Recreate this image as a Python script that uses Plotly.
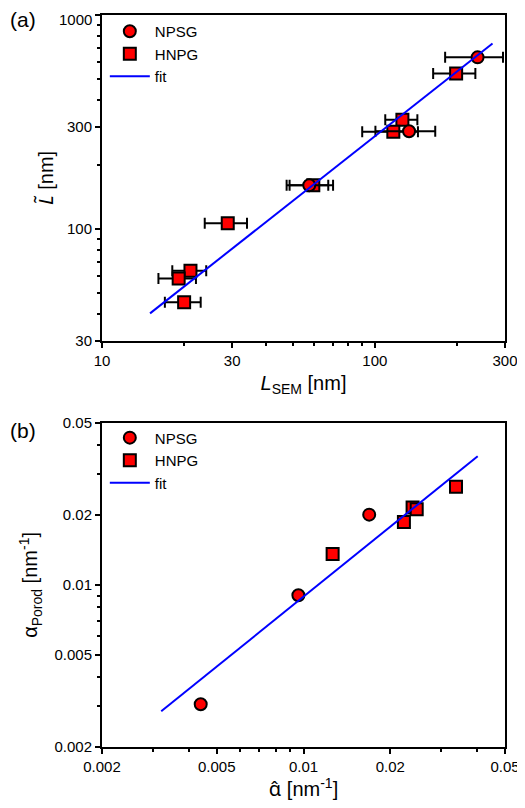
import math
import plotly.graph_objects as go
from plotly.subplots import make_subplots

# ---- Panel (a) data ----
a_npsg_x = [238, 133.5, 57.5]
a_npsg_y = [634, 286, 160]
a_npsg_xerr = [57, 33, 10]

a_hnpg_x = [198.6, 126.2, 116.9, 59.5, 28.9, 21.1, 19.1, 20.0]
a_hnpg_y = [533, 324, 285, 160, 106.4, 63.8, 58.7, 45.4]
a_hnpg_xerr = [35, 17, 27, 10.8, 5.1, 3.0, 3.0, 3.0]

a_fit_x = [15, 270]
a_fit_y = [40.3, 736]

a_xticks = [10, 30, 100, 300]
a_yticks = [30, 100, 300, 1000]
a_ytick_labels = ["30", "100", "300", "1000"]
a_xminor = [20, 40, 50, 60, 70, 80, 90, 200]
a_yminor = [40, 50, 60, 70, 80, 90, 200, 400, 500, 600, 700, 800, 900]

# ---- Panel (b) data ----
b_npsg_x = [0.0169, 0.0096, 0.0044]
b_npsg_y = [0.0201, 0.00903, 0.00306]

b_hnpg_x = [0.0338, 0.0239, 0.0247, 0.0223, 0.01262]
b_hnpg_y = [0.0265, 0.0216, 0.0212, 0.0187, 0.01358]

b_fit_x = [0.00321, 0.0402]
b_fit_y = [0.00285, 0.0359]

b_ticks = [0.002, 0.005, 0.01, 0.02, 0.05]
b_tick_labels = ["0.002", "0.005", "0.01", "0.02", "0.05"]
b_minor = [0.003, 0.004, 0.006, 0.007, 0.008, 0.009, 0.03, 0.04]

FONT = "Liberation Sans, Arial, sans-serif"
RED = "#ff0000"
BLUE = "#0000ff"

# page body has an 8px default margin: figure is drawn 8px right/down
OFF = 8
W, H = 525 - OFF, 808 - OFF
ML, MR, MT, MB = 102 - OFF, 20, 15 - OFF, 61
plot_w = W - ML - MR
plot_h = H - MT - MB

fig = make_subplots(rows=2, cols=1, vertical_spacing=0.1)

marker_common = dict(color=RED, size=12, line=dict(color="black", width=2))
err_common = dict(type="data", color="black", thickness=2, width=5.5)

# Panel (a)
fig.add_trace(go.Scatter(x=a_hnpg_x, y=a_hnpg_y, mode="markers", name="HNPG",
                         marker=dict(symbol="square", **marker_common),
                         error_x=dict(array=a_hnpg_xerr, **err_common),
                         legend="legend", legendrank=2), row=1, col=1)
fig.add_trace(go.Scatter(x=a_npsg_x, y=a_npsg_y, mode="markers", name="NPSG",
                         marker=dict(symbol="circle", **marker_common),
                         error_x=dict(array=a_npsg_xerr, **err_common),
                         legend="legend", legendrank=1), row=1, col=1)
fig.add_trace(go.Scatter(x=a_fit_x, y=a_fit_y, mode="lines", name="fit",
                         line=dict(color=BLUE, width=2),
                         legend="legend", legendrank=3), row=1, col=1)

# Panel (b)
fig.add_trace(go.Scatter(x=b_hnpg_x, y=b_hnpg_y, mode="markers", name="HNPG",
                         marker=dict(symbol="square", **marker_common),
                         legend="legend2", legendrank=2), row=2, col=1)
fig.add_trace(go.Scatter(x=b_npsg_x, y=b_npsg_y, mode="markers", name="NPSG",
                         marker=dict(symbol="circle", **marker_common),
                         legend="legend2", legendrank=1), row=2, col=1)
fig.add_trace(go.Scatter(x=b_fit_x, y=b_fit_y, mode="lines", name="fit",
                         line=dict(color=BLUE, width=2),
                         legend="legend2", legendrank=3), row=2, col=1)

axis_common = dict(type="log", showline=True, linecolor="black", linewidth=2,
                   mirror=True, ticks="outside", ticklen=5, tickwidth=2,
                   tickcolor="black", showgrid=False, zeroline=False,
                   automargin=False, ticklabeloverflow="allow",
                   tickfont=dict(family=FONT, size=15, color="black"))
minor_common = dict(ticks="outside", ticklen=3, tickwidth=1.5, tickcolor="black",
                    showgrid=False)
title_font = dict(family=FONT, size=20, color="black")
MARK = "<span style='font-family:Noto Sans'>{}</span>"

# the top label of panel (a) sits a little below its tick (as in the original);
# it is drawn as an annotation at that tick so it stays inside the page
a_ytick_text = a_ytick_labels[:-1] + [""]

fig.update_xaxes(row=1, col=1, range=[1, math.log10(300)], tickmode="array",
                 tickvals=a_xticks, ticktext=[str(v) for v in a_xticks],
                 minor=dict(tickmode="array", tickvals=a_xminor, **minor_common),
                 title=dict(text="<i>L</i><sub>SEM</sub> [nm]", font=title_font, standoff=8),
                 **axis_common)
fig.update_yaxes(row=1, col=1, range=[math.log10(30), 3], tickmode="array",
                 tickvals=a_yticks, ticktext=a_ytick_text,
                 minor=dict(tickmode="array", tickvals=a_yminor, **minor_common),
                 title=dict(text=MARK.format("<i>L\u0303</i>") + " [nm]", font=title_font, standoff=8),
                 **axis_common)
fig.update_xaxes(row=2, col=1, range=[math.log10(0.002), math.log10(0.05)], tickmode="array",
                 tickvals=b_ticks, ticktext=b_tick_labels,
                 minor=dict(tickmode="array", tickvals=b_minor, **minor_common),
                 title=dict(text=MARK.format("\u03b1\u0302") + " [nm<sup>-1</sup>]", font=title_font, standoff=7),
                 **axis_common)
fig.update_yaxes(row=2, col=1, range=[math.log10(0.002), math.log10(0.05)], tickmode="array",
                 tickvals=b_ticks, ticktext=b_tick_labels,
                 minor=dict(tickmode="array", tickvals=b_minor, **minor_common),
                 title=dict(text="\u03b1<sub>Porod</sub> [nm<sup>-1</sup>]", font=title_font, standoff=11),
                 **axis_common)

legend_common = dict(xanchor="left", yanchor="top", bgcolor="rgba(0,0,0,0)",
                     itemwidth=40, tracegroupgap=0,
                     font=dict(family=FONT, size=15, color="black"))

def px_to_paper_x(px):
    return (px - OFF - ML) / plot_w

def px_to_paper_y(py):
    return (H - MB - (py - OFF)) / plot_h

fig.update_layout(
    width=W, height=H,
    margin=dict(l=ML, r=MR, t=MT, b=MB, autoexpand=False),
    paper_bgcolor="white", plot_bgcolor="white",
    font=dict(family=FONT, color="black"),
    xaxis=dict(domain=[0, 1]), yaxis=dict(domain=[0.5549, 1]),
    xaxis2=dict(domain=[0, 1]), yaxis2=dict(domain=[0, 0.4428]),
    legend=dict(x=0.007, y=1.0, **legend_common),
    legend2=dict(x=0.007, y=0.4428 + 0.002, **legend_common),
    annotations=[
        dict(text="(a)", x=px_to_paper_x(23), y=px_to_paper_y(20),
             xref="paper", yref="paper", showarrow=False,
             xanchor="center", yanchor="middle",
             font=dict(family=FONT, size=21, color="black")),
        dict(text="(b)", x=px_to_paper_x(23), y=px_to_paper_y(430),
             xref="paper", yref="paper", showarrow=False,
             xanchor="center", yanchor="middle",
             font=dict(family=FONT, size=21, color="black")),
        dict(text=a_ytick_labels[-1], x=0, y=math.log10(a_yticks[-1]),
             xref="paper", yref="y", showarrow=False,
             xanchor="right", yanchor="middle", xshift=-8, yshift=-4,
             font=dict(family=FONT, size=15, color="black")),
    ],
)

fig.write_html("out.html")
